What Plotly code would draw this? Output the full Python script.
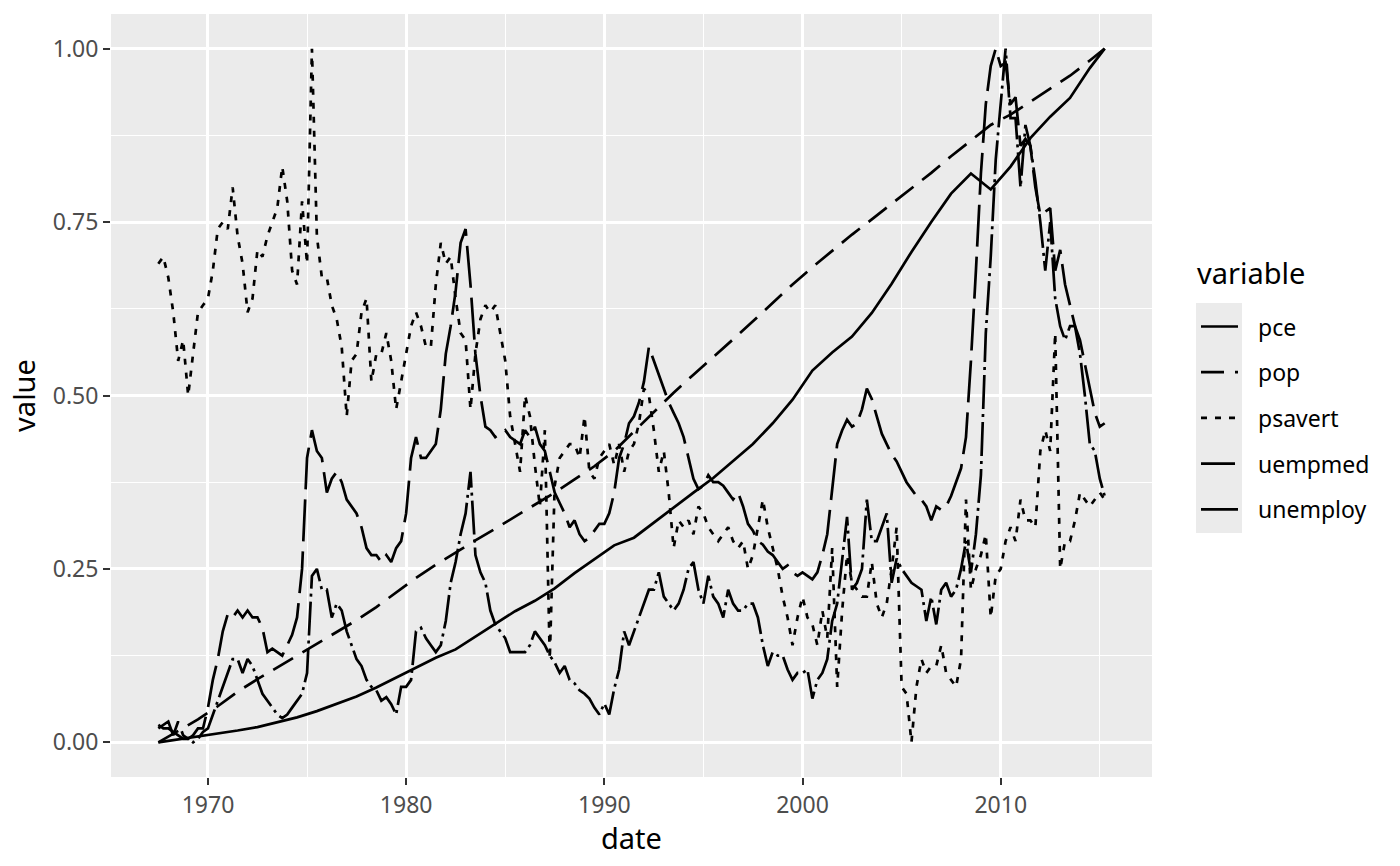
import pandas as pd
import plotly.graph_objects as go

# Series rescaled to 0-1 (value01).
# pce and pop are smooth: one value per year (July), last one April 2015.
annual_dates = [f"{y}-07-01" for y in range(1967, 2015)] + ["2015-04-01"]

pce = [0.000, 0.004, 0.008, 0.012, 0.017, 0.022, 0.029, 0.036, 0.045, 0.055,
       0.066, 0.079, 0.093, 0.107, 0.122, 0.134, 0.152, 0.170, 0.189, 0.204,
       0.222, 0.244, 0.264, 0.284, 0.295, 0.317, 0.338, 0.360, 0.381, 0.405,
       0.430, 0.460, 0.494, 0.536, 0.562, 0.585, 0.619, 0.661, 0.707, 0.750,
       0.791, 0.820, 0.797, 0.830, 0.871, 0.902, 0.929, 0.972, 1.000]

pop = [0.000, 0.016, 0.033, 0.052, 0.073, 0.091, 0.108, 0.124, 0.141, 0.158,
       0.176, 0.195, 0.216, 0.237, 0.256, 0.274, 0.291, 0.308, 0.325, 0.343,
       0.360, 0.379, 0.398, 0.420, 0.448, 0.476, 0.504, 0.530, 0.555, 0.581,
       0.607, 0.634, 0.660, 0.685, 0.709, 0.732, 0.754, 0.776, 0.798, 0.821,
       0.845, 0.868, 0.890, 0.905, 0.924, 0.942, 0.961, 0.983, 1.000]

# The noisy ones: one value per quarter, 1967-07 .. 2015-04.
quarter_dates = pd.date_range("1967-07-01", "2015-04-01", freq="QS")

psavert = [
    0.69, 0.70,
    0.67, 0.62, 0.55, 0.58,  # 1968
    0.50, 0.56, 0.62, 0.63,
    0.64, 0.68, 0.74, 0.75,  # 1970
    0.74, 0.80, 0.73, 0.69,
    0.62, 0.64, 0.71, 0.70,
    0.73, 0.75, 0.77, 0.83,
    0.78, 0.68, 0.66, 0.78,
    0.69, 1.00, 0.73, 0.67,  # 1975
    0.67, 0.63, 0.61, 0.57,
    0.47, 0.55, 0.56, 0.62,
    0.64, 0.52, 0.56, 0.56,
    0.59, 0.55, 0.48, 0.52,
    0.56, 0.60, 0.62, 0.60,  # 1980
    0.57, 0.57, 0.66, 0.72,
    0.69, 0.70, 0.64, 0.59,
    0.58, 0.48, 0.56, 0.61,
    0.63, 0.62, 0.63, 0.59,
    0.55, 0.47, 0.43, 0.39,  # 1985
    0.50, 0.47, 0.40, 0.34,
    0.45, 0.12, 0.37, 0.41,
    0.42, 0.43, 0.43, 0.41,
    0.47, 0.39, 0.38, 0.41,
    0.42, 0.43, 0.40, 0.43,  # 1990
    0.39, 0.42, 0.43, 0.46,
    0.51, 0.50, 0.45, 0.39,
    0.42, 0.36, 0.28, 0.32,
    0.31, 0.32, 0.30, 0.34,
    0.33, 0.31, 0.30, 0.29,  # 1995
    0.30, 0.31, 0.29, 0.28,
    0.29, 0.25, 0.27, 0.31,
    0.35, 0.31, 0.28, 0.25,
    0.21, 0.18, 0.14, 0.18,
    0.21, 0.18, 0.17, 0.14,  # 2000
    0.19, 0.15, 0.28, 0.08,
    0.19, 0.27, 0.23, 0.22,
    0.21, 0.21, 0.26, 0.20,
    0.18, 0.20, 0.25, 0.31,
    0.08, 0.07, 0.00, 0.08,  # 2005
    0.12, 0.10, 0.11, 0.11,
    0.14, 0.10, 0.09, 0.08,
    0.12, 0.35, 0.22, 0.25,
    0.27, 0.30, 0.18, 0.24,
    0.25, 0.29, 0.31, 0.29,  # 2010
    0.35, 0.32, 0.32, 0.31,
    0.42, 0.45, 0.42, 0.59,
    0.25, 0.29, 0.29, 0.32,
    0.36, 0.35, 0.34, 0.35,
    0.36, 0.35,              # 2015
]

uempmed = [
    0.025, 0.02,
    0.02, 0.015, 0.01, 0.005,  # 1968
    0.005, 0.0, 0.005, 0.015,
    0.02, 0.04, 0.06, 0.08,    # 1970
    0.10, 0.12, 0.12, 0.10,
    0.12, 0.11, 0.09, 0.07,
    0.06, 0.05, 0.04, 0.035,
    0.04, 0.05, 0.06, 0.07,
    0.10, 0.24, 0.25, 0.22,    # 1975
    0.22, 0.18, 0.20, 0.19,
    0.16, 0.14, 0.12, 0.11,
    0.09, 0.08, 0.075, 0.06,
    0.065, 0.055, 0.04, 0.08,
    0.08, 0.09, 0.16, 0.165,   # 1980
    0.15, 0.14, 0.13, 0.14,
    0.175, 0.23, 0.26, 0.30,
    0.33, 0.39, 0.27, 0.245,
    0.23, 0.19, 0.17, 0.16,
    0.15, 0.13, 0.13, 0.13,    # 1985
    0.13, 0.14, 0.16, 0.15,
    0.14, 0.125, 0.115, 0.10,
    0.11, 0.09, 0.085, 0.075,
    0.07, 0.063, 0.05, 0.04,
    0.056, 0.04, 0.077, 0.105,  # 1990
    0.16, 0.14, 0.16, 0.18,
    0.20, 0.22, 0.22, 0.245,
    0.21, 0.20, 0.19, 0.20,
    0.22, 0.25, 0.26, 0.22,
    0.20, 0.24, 0.21, 0.20,    # 1995
    0.18, 0.22, 0.20, 0.19,
    0.19, 0.20, 0.20, 0.18,
    0.14, 0.11, 0.13, 0.125,
    0.125, 0.105, 0.09, 0.10,
    0.10, 0.105, 0.063, 0.09,  # 2000
    0.10, 0.12, 0.175, 0.20,
    0.26, 0.325, 0.22, 0.23,
    0.25, 0.35, 0.29, 0.29,
    0.31, 0.33, 0.23, 0.265,
    0.25, 0.24, 0.23, 0.225,   # 2005
    0.22, 0.175, 0.21, 0.17,
    0.22, 0.23, 0.21, 0.22,
    0.25, 0.29, 0.245, 0.30,
    0.385, 0.59, 0.70, 0.84,
    0.92, 1.00, 0.90, 0.90,    # 2010
    0.80, 0.89, 0.86, 0.81,
    0.75, 0.68, 0.75, 0.64,
    0.60, 0.58, 0.60, 0.60,
    0.56, 0.50, 0.43, 0.42,
    0.38, 0.355,               # 2015
]

unemploy = [
    0.02, 0.025,
    0.03, 0.01, 0.03, 0.01,    # 1968
    0.005, 0.01, 0.02, 0.02,
    0.05, 0.09, 0.12, 0.16,    # 1970
    0.185, 0.18, 0.19, 0.18,
    0.19, 0.18, 0.18, 0.165,
    0.13, 0.135, 0.13, 0.125,
    0.14, 0.155, 0.18, 0.25,
    0.41, 0.45, 0.42, 0.41,    # 1975
    0.36, 0.38, 0.39, 0.375,
    0.35, 0.34, 0.33, 0.31,
    0.28, 0.27, 0.27, 0.26,
    0.27, 0.26, 0.28, 0.29,
    0.33, 0.41, 0.44, 0.41,    # 1980
    0.41, 0.42, 0.43, 0.48,
    0.56, 0.60, 0.65, 0.72,
    0.74, 0.66, 0.56, 0.50,
    0.455, 0.45, 0.44, 0.445,
    0.45, 0.44, 0.435, 0.43,   # 1985
    0.45, 0.44, 0.455, 0.43,
    0.42, 0.39, 0.36, 0.345,
    0.33, 0.31, 0.32, 0.30,
    0.29, 0.295, 0.305, 0.315,
    0.315, 0.33, 0.36, 0.41,   # 1990
    0.43, 0.46, 0.47, 0.49,
    0.52, 0.57, 0.55, 0.53,
    0.51, 0.49, 0.475, 0.46,
    0.44, 0.41, 0.38, 0.365,
    0.37, 0.385, 0.375, 0.375,  # 1995
    0.37, 0.36, 0.35, 0.36,
    0.34, 0.315, 0.305, 0.29,
    0.285, 0.275, 0.27, 0.26,
    0.25, 0.255, 0.245, 0.24,
    0.245, 0.24, 0.235, 0.245,  # 2000
    0.27, 0.30, 0.36, 0.43,
    0.45, 0.465, 0.455, 0.46,
    0.48, 0.51, 0.495, 0.47,
    0.445, 0.43, 0.415, 0.405,
    0.39, 0.375, 0.365, 0.355,  # 2005
    0.35, 0.34, 0.32, 0.34,
    0.335, 0.34, 0.355, 0.375,
    0.395, 0.44, 0.55, 0.68,
    0.82, 0.92, 0.975, 1.00,
    0.975, 0.98, 0.92, 0.93,   # 2010
    0.86, 0.87, 0.86, 0.80,
    0.76, 0.765, 0.77, 0.68,
    0.71, 0.66, 0.63, 0.60,
    0.58, 0.545, 0.51, 0.475,
    0.455, 0.46,               # 2015
]

variables = ["pce", "pop", "psavert", "uempmed", "unemploy"]
# ggplot-like linetypes, as measured on the reference
dashes = ["solid", "23px,11px", "6px,8px", "34px,5px,3px,5px", "42px,10px"]

series = {
    "pce": (annual_dates, pce),
    "pop": (annual_dates, pop),
    "psavert": (quarter_dates, psavert),
    "uempmed": (quarter_dates, uempmed),
    "unemploy": (quarter_dates, unemploy),
}

fig = go.Figure()
for name, dash in zip(variables, dashes):
    x, y = series[name]
    fig.add_trace(go.Scatter(x=x, y=y, mode="lines", name=name, showlegend=False,
                             line=dict(color="black", width=2.7, dash=dash)))

# x range with ggplot's 5% padding
start = pd.Timestamp("1967-07-01")
end = pd.Timestamp("2015-04-01")
pad = (end - start) * 0.05

W, H = 1400, 866
L, R, T, B = 111, 248, 14, 89
pw, ph = W - L - R, H - T - B


def px_x(px):
    return (px - L) / pw


def px_y(py):
    return (H - B - py) / ph


# hand-made legend, ggplot style (grey key boxes)
shapes = [dict(type="rect", xref="paper", yref="paper", layer="below",
               x0=px_x(1196), x1=px_x(1242), y0=px_y(303), y1=px_y(533),
               fillcolor="#EBEBEB", line=dict(width=0))]
annotations = [
    dict(text="variable", xref="paper", yref="paper", x=px_x(1195), y=px_y(272),
         xanchor="left", yanchor="middle", showarrow=False,
         font=dict(size=29, color="black")),
    # x axis title
    dict(text="date", xref="paper", yref="paper", x=0.5, y=px_y(837),
         xanchor="center", yanchor="middle", showarrow=False,
         font=dict(size=29, color="black")),
]
for i, (name, dash) in enumerate(zip(variables, dashes)):
    ky = 326.5 + i * 45.7
    shapes.append(dict(type="line", xref="paper", yref="paper",
                       x0=px_x(1201), x1=px_x(1238), y0=px_y(ky), y1=px_y(ky),
                       line=dict(color="black", width=2.7, dash=dash)))
    annotations.append(dict(text=name, xref="paper", yref="paper", x=px_x(1256), y=px_y(ky),
                            xanchor="left", yanchor="middle", showarrow=False,
                            font=dict(size=23, color="black")))

fig.update_layout(
    width=W, height=H,
    margin=dict(l=L, r=R, t=T, b=B),
    paper_bgcolor="white",
    plot_bgcolor="#EBEBEB",
    font=dict(family="Noto Sans", color="black"),
    showlegend=False,
    shapes=shapes,
    annotations=annotations,
    xaxis=dict(
        type="date",
        range=[start - pad, end + pad],
        tickvals=[f"{y}-01-01" for y in range(1970, 2011, 10)],
        ticktext=[str(y) for y in range(1970, 2011, 10)],
        ticks="outside", ticklen=7, tickwidth=2, tickcolor="#333333",
        tickfont=dict(size=23, color="#4D4D4D"),
        showgrid=True, gridcolor="white", gridwidth=2.8,
        minor=dict(tickvals=[f"{y}-01-01" for y in range(1975, 2016, 10)],
                   showgrid=True, gridcolor="white", gridwidth=1.4, ticklen=0),
        zeroline=False, showline=False,
    ),
    yaxis=dict(
        range=[-0.05, 1.05],
        tickvals=[0, 0.25, 0.5, 0.75, 1.0],
        ticktext=["0.00", "0.25", "0.50", "0.75", "1.00"],
        ticks="outside", ticklen=7, tickwidth=2, tickcolor="#333333",
        tickfont=dict(size=23, color="#4D4D4D"),
        showgrid=True, gridcolor="white", gridwidth=2.8,
        minor=dict(tickvals=[0.125, 0.375, 0.625, 0.875],
                   showgrid=True, gridcolor="white", gridwidth=1.4, ticklen=0),
        zeroline=False, showline=False,
        title=dict(text="value", font=dict(size=29, color="black"), standoff=8),
    ),
)

fig.write_html("out.html", config={"displayModeBar": False},
               post_script="document.body.style.margin='0';")
